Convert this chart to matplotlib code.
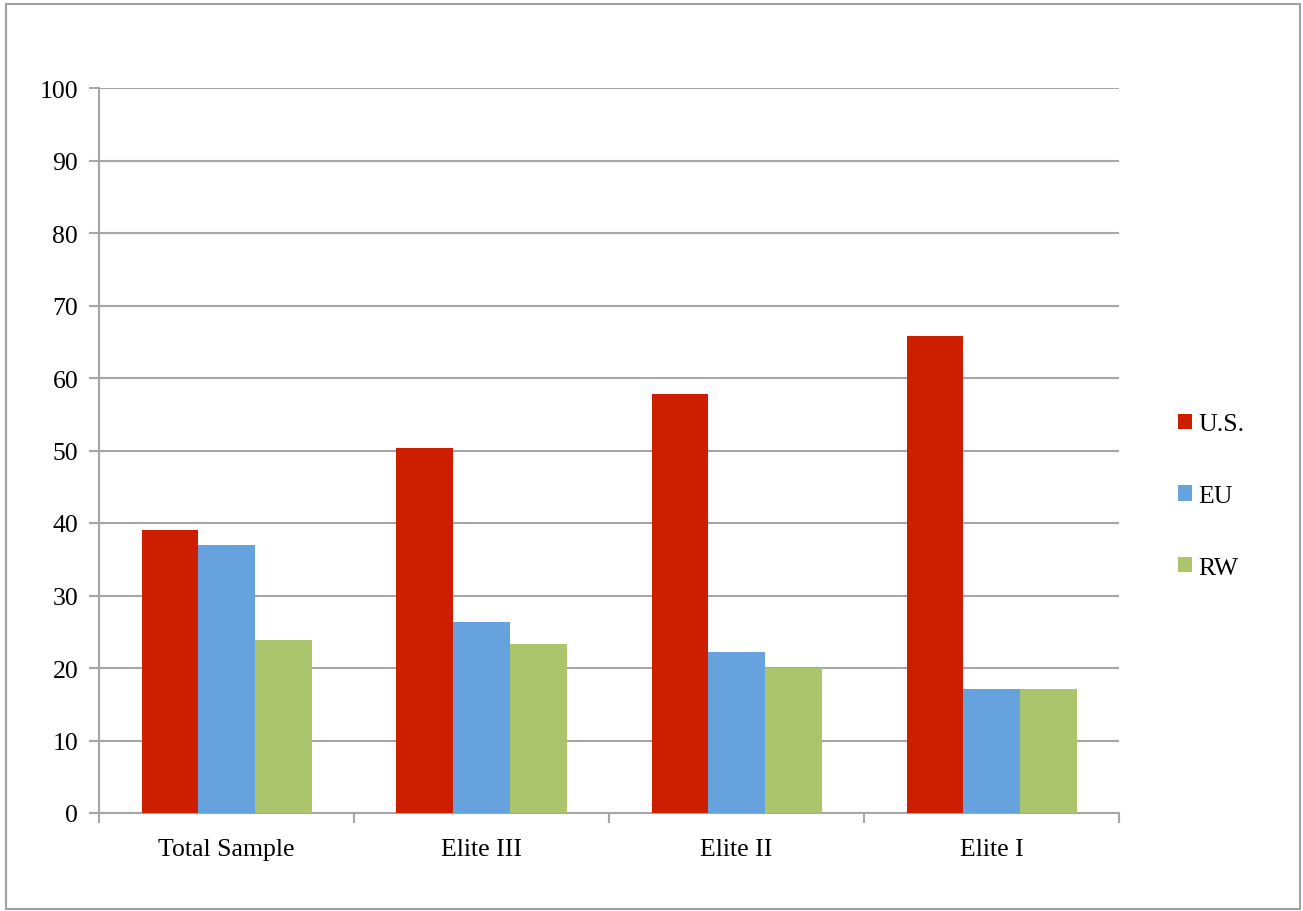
import matplotlib
matplotlib.use("Agg")
import matplotlib.pyplot as plt
import numpy as np
from matplotlib.patches import Rectangle

categories = ["Total Sample", "Elite III", "Elite II", "Elite I"]
series_names = ["U.S.", "EU", "RW"]
us = [39.0, 50.3, 57.8, 65.8]
eu = [37.0, 26.3, 22.2, 17.1]
rw = [23.9, 23.3, 20.0, 17.1]
yticks = [0, 10, 20, 30, 40, 50, 60, 70, 80, 90, 100]

colors = ["#CD1F00", "#66A2DE", "#ABC56C"]
grid_c = "#A6A6A6"

plt.rcParams['font.family'] = ['Liberation Serif', 'DejaVu Serif']
FS = 18.5

W, H = 1303, 912
fig = plt.figure(figsize=(W / 100, H / 100), dpi=100)
ax = fig.add_axes([99 / W, 1 - 814 / H, (1119 - 99) / W, (814 - 89) / H])

# outer border
fig.patches.append(Rectangle((6 / W, 1 - 910 / H), (1300 - 6) / W, (910 - 5) / H,
                             transform=fig.transFigure, fill=False,
                             edgecolor="#A0A0A0", linewidth=1.5))

bw = 1 / 4.5
x = np.arange(len(categories)) + 0.5
for i, (vals, name) in enumerate(zip([us, eu, rw], series_names)):
    ax.bar(x + (i - 1) * bw, vals, width=bw, color=colors[i], label=name,
           zorder=3, linewidth=0)

ax.set_xlim(0, len(categories))
ax.set_ylim(0, 100)
ax.set_yticks(yticks)
ax.set_yticklabels([str(t) for t in yticks])
ax.set_xticks(np.arange(len(categories) + 1))
ax.set_xticklabels([])
ax.set_xticks(x, minor=True)
ax.set_xticklabels(categories, minor=True)
ax.tick_params(axis='x', which='minor', length=0, pad=18, labelsize=FS)
ax.tick_params(axis='x', which='major', length=7, color=grid_c, width=1.5)
ax.tick_params(axis='y', length=7, color=grid_c, width=1.5, pad=8, labelsize=FS)

ax.yaxis.grid(True, color=grid_c, linewidth=1.5, zorder=0)
ax.set_axisbelow(True)
for s in ["top", "right"]:
    ax.spines[s].set_visible(False)
for s in ["left", "bottom"]:
    ax.spines[s].set_color(grid_c)
    ax.spines[s].set_linewidth(1.5)

leg = ax.legend(loc="center left", bbox_to_anchor=(1155 / W, 1 - 497 / H),
                bbox_transform=fig.transFigure, frameon=False,
                fontsize=FS, handlelength=0.54, handleheight=0.54,
                handletextpad=0.25, labelspacing=1.93)

fig.savefig("out.png", dpi=100)
